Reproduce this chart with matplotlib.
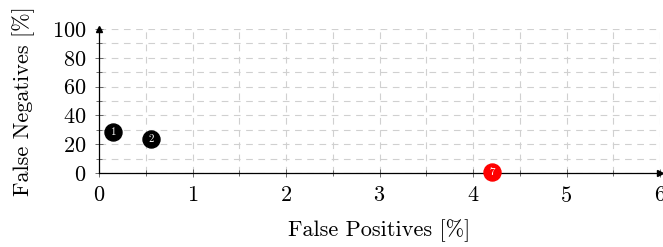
import numpy as np
import matplotlib.pyplot as plt

plt.rcParams['font.family'] = 'serif'
plt.rcParams['font.serif'] = ['cmr10', 'DejaVu Serif']
plt.rcParams['mathtext.fontset'] = 'cm'
plt.rcParams['axes.formatter.use_mathtext'] = True

# Data
labels = ['1', '2', '7']
false_pos = [0.15, 0.56, 4.2]
false_neg = [28.5, 23.5, 0.5]
colors = ['black', 'black', 'red']

x_ticks = [0, 1, 2, 3, 4, 5, 6]
y_ticks = [0, 20, 40, 60, 80, 100]

fig = plt.figure(figsize=(6.63, 2.47), dpi=100)
ax = fig.add_axes([99/663, 74/247, 561/663, 144/247])

ax.set_xlim(0, 6)
ax.set_ylim(0, 100)
ax.set_xticks(x_ticks)
ax.set_yticks(y_ticks)
ax.set_xticks(np.arange(0.5, 6, 1), minor=True)
ax.set_yticks(np.arange(10, 100, 20), minor=True)
ax.grid(True, which='both', color='#d0d0d0', linestyle=(0, (6, 5)), linewidth=0.8)
ax.tick_params(which='both', direction='inout', length=6, width=0.6, color='#555555',
               labelsize=16, pad=6)
ax.tick_params(which='minor', length=5)

for s in ['top', 'right']:
    ax.spines[s].set_visible(False)
for s in ['left', 'bottom']:
    ax.spines[s].set_linewidth(0.9)

# arrow heads on the axes
ax.plot(1, 0, '>k', transform=ax.transAxes, clip_on=False, markersize=5)
ax.plot(0, 1, '^k', transform=ax.transAxes, clip_on=False, markersize=5)

for lab, x, y, c in zip(labels, false_pos, false_neg, colors):
    ax.scatter(x, y, s=150, color=c, zorder=5, clip_on=False)
    ax.text(x, y, lab, color='white', fontsize=8, ha='center', va='center', zorder=6)

ax.set_xlabel('False Positives [%]', fontsize=16, labelpad=10)
ax.set_ylabel('False Negatives [%]', fontsize=16, labelpad=12)

fig.savefig('out.png', dpi=100)
